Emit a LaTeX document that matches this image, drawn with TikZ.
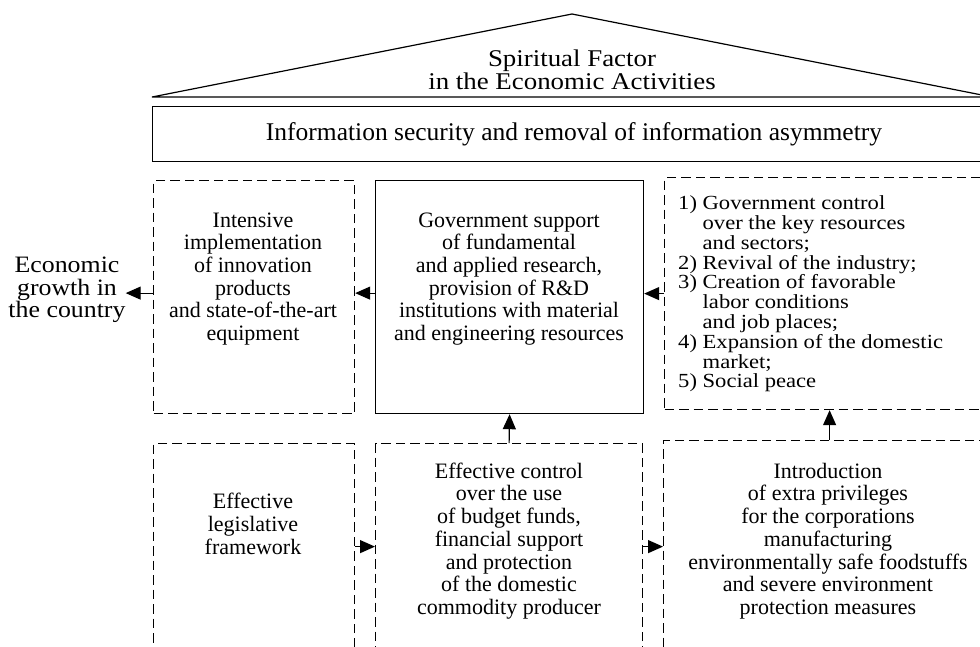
\documentclass[tikz,border=0pt]{standalone}
\usepackage{fontspec}
\setmainfont{Liberation Serif}
\newfontfamily\widefont[FakeStretch=1.1]{Liberation Serif}
\newfontfamily\listfont[FakeStretch=1.13]{Liberation Serif}
\newfontfamily\rooffont[FakeStretch=1.12]{Liberation Serif}
\usetikzlibrary{arrows.meta}
\begin{document}
\begin{tikzpicture}[x=1pt,y=-1pt,
  box/.style={draw, line width=1.2pt, inner sep=0pt, anchor=north west},
  dbox/.style={box, dash pattern=on 9.5pt off 5pt},
  txt/.style={align=center, inner sep=0pt, font=\fontsize{22}{22.7}\selectfont},
  bigtxt/.style={align=center, inner sep=0pt, font=\fontsize{25.5}{22.5}\selectfont},
  econtxt/.style={align=center, inner sep=0pt, font=\widefont\fontsize{23.5}{22.7}\selectfont},
  listtxt/.style={align=left, inner sep=0pt, anchor=west, font=\listfont\fontsize{20}{19.8}\selectfont},
  rooftxt/.style={align=center, inner sep=0pt, font=\rooffont\fontsize{24}{21}\selectfont},
  arr/.style={-{Triangle[length=15pt,width=13pt]}, line width=1.2pt}]
\useasboundingbox (0,0) rectangle (980,646);
\clip (0,0) rectangle (980,646);
% roof
\draw[line width=1.2pt] (152,97) -- (572,14) -- (992,97) -- cycle;
\node[rooftxt] (roof) at (572,70) {Spiritual Factor\\in the Economic Activities};
% information bar
\node[box, minimum width=842pt, minimum height=55pt] (info) at (152,106) {};
\node[bigtxt] (infotxt) at (574,134) {Information security and removal of information asymmetry};
% row 1
\node[dbox, minimum width=201pt, minimum height=233pt] (L1) at (153,180) {};
\node[box, minimum width=268pt, minimum height=233pt] (M1) at (375,180) {};
\node[dbox, minimum width=332pt, minimum height=232pt] (R1) at (664,177) {};
% row 2
\node[dbox, minimum width=201pt, minimum height=206pt] (L2) at (153,443) {};
\node[dbox, minimum width=267pt, minimum height=206pt] (M2) at (375,443) {};
\node[dbox, minimum width=332pt, minimum height=212pt] (R2) at (663,440) {};
% texts
\node[econtxt] (econ) at (67,290) {Economic\\growth in\\the country};
\node[txt] (L1t) at (253,279) {Intensive\\implementation\\of innovation\\products\\and state-of-the-art\\equipment};
\node[txt] (M1t) at (509,279) {Government support\\of fundamental\\and applied research,\\provision of R\&D\\institutions with material\\and engineering resources};
\node[listtxt] (R1t) at (678,294) {1) Government control\\\hphantom{1) }over the key resources\\\hphantom{1) }and sectors;\\2) Revival of the industry;\\3) Creation of favorable\\\hphantom{1) }labor conditions\\\hphantom{1) }and job places;\\4) Expansion of the domestic\\\hphantom{1) }market;\\5) Social peace};
\node[txt] (L2t) at (253,524) {Effective\\legislative\\framework};
\node[txt] (M2t) at (509,541) {Effective control\\over the use\\of budget funds,\\financial support\\and protection\\of the domestic\\commodity producer};
\node[txt] (R2t) at (828,541) {Introduction\\of extra privileges\\for the corporations\\manufacturing\\environmentally safe foodstuffs\\and severe environment\\protection measures};
% connectors
\coordinate (a1) at ([yshift=4pt]L1.west);
\coordinate (a2) at ([yshift=4pt]M1.west);
\draw[arr] (a1) -- (a1 -| econ.east) ;
\draw[arr] (a2) -- (a2 -| L1.east);
\draw[arr] (R1.west) -- (R1.west -| M1.east);
\draw[arr] (M2.north) -- (M1.south);
\draw[arr] (R2.north) -- (R2.north |- R1.south);
\draw[arr] (L2.east) -- (M2.west);
\draw[arr] (M2.east) -- (M2.east -| R2.west);
\end{tikzpicture}
\end{document}
